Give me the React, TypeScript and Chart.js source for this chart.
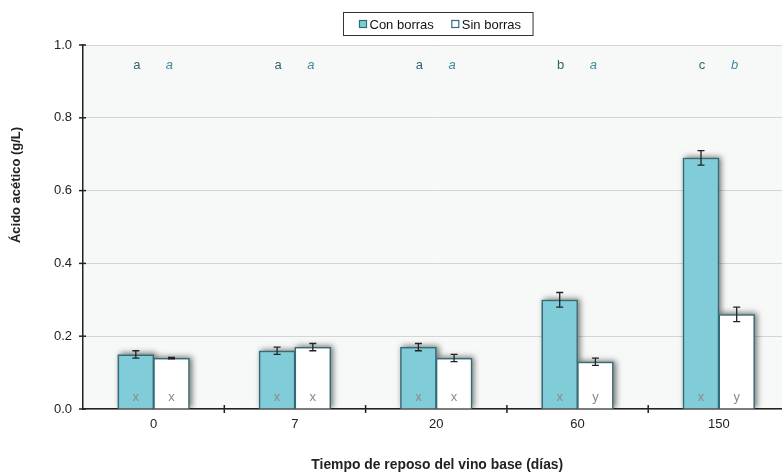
import React, { useEffect, useRef } from "react";
import { Chart, registerables } from "chart.js";

Chart.register(...registerables);

// Acetic acid (g/L) by resting time of the base wine
const categories = ["0", "7", "20", "60", "150"];
const conBorras = [0.15, 0.16, 0.17, 0.3, 0.69];
const conBorrasErr = [0.01, 0.01, 0.01, 0.02, 0.02];
const sinBorras = [0.14, 0.17, 0.14, 0.13, 0.26];
const sinBorrasErr = [0.002, 0.01, 0.01, 0.01, 0.02];
// significance letters (between times, per treatment)
const conLetters = ["a", "a", "a", "b", "c"];
const sinLetters = ["a", "a", "a", "a", "b"];
// significance letters (between treatments, per time)
const conGroups = ["x", "x", "x", "x", "x"];
const sinGroups = ["x", "x", "x", "y", "y"];
const seriesLabels = ["Con borras", "Sin borras"];
const yTitle = "Ácido acético (g/L)";
const xTitle = "Tiempo de reposo del vino base (días)";

const FONT = "'Liberation Sans', Arial, sans-serif";
const TEAL_FILL = "#80ccd8";
const TEAL_EDGE = "#2d6e7a";

// draw a bold title whose font size is chosen so the string spans `width`
function fittedTitle(ctx: any, text: string, x: number, y: number, width: number, angle: number) {
  ctx.save();
  ctx.font = "bold 10px " + FONT;
  const size = (10 * width) / ctx.measureText(text).width;
  ctx.font = "bold " + size.toFixed(2) + "px " + FONT;
  ctx.translate(x, y);
  ctx.rotate(angle);
  ctx.textAlign = "center";
  ctx.textBaseline = "middle";
  ctx.fillText(text, 0, 0);
  ctx.restore();
}

const decorations = {
  id: "decorations",
  beforeDraw(chart: any) {
    const { ctx, chartArea } = chart;
    ctx.save();
    ctx.fillStyle = "#f7f9f9";
    ctx.fillRect(chartArea.left, chartArea.top, chartArea.right - chartArea.left, chartArea.bottom - chartArea.top);
    ctx.restore();
  },
  beforeDatasetsDraw(chart: any) {
    // soft drop shadows behind each bar
    const { ctx, chartArea } = chart;
    ctx.save();
    ctx.beginPath();
    ctx.rect(chartArea.left, chartArea.top, chartArea.right - chartArea.left, chartArea.bottom - chartArea.top);
    ctx.clip();
    ctx.shadowColor = "rgba(0,0,0,0.55)";
    ctx.shadowBlur = 6;
    ctx.shadowOffsetX = 2;
    ctx.shadowOffsetY = -1;
    ctx.fillStyle = "#888";
    chart.data.datasets.forEach((_: any, i: number) => {
      chart.getDatasetMeta(i).data.forEach((bar: any) => {
        const { x, y, base, width } = bar.getProps(["x", "y", "base", "width"], true);
        ctx.fillRect(x - width / 2, y, width, base - y);
      });
    });
    ctx.restore();
  },
  afterDatasetsDraw(chart: any) {
    const { ctx, scales, chartArea } = chart;
    const y = scales.y;
    const x = scales.x;
    const errs = [conBorrasErr, sinBorrasErr];
    const tops = [conLetters, sinLetters];
    const bottoms = [conGroups, sinGroups];
    chart.data.datasets.forEach((ds: any, i: number) => {
      const meta = chart.getDatasetMeta(i);
      meta.data.forEach((bar: any, j: number) => {
        const v = ds.data[j];
        const e = errs[i][j];
        const yHi = y.getPixelForValue(v + e);
        const yLo = y.getPixelForValue(v - e);
        ctx.save();
        ctx.strokeStyle = "#222";
        ctx.lineWidth = 1.3;
        ctx.beginPath();
        ctx.moveTo(bar.x, yHi);
        ctx.lineTo(bar.x, yLo);
        ctx.moveTo(bar.x - 3.5, yHi);
        ctx.lineTo(bar.x + 3.5, yHi);
        ctx.moveTo(bar.x - 3.5, yLo);
        ctx.lineTo(bar.x + 3.5, yLo);
        ctx.stroke();
        // letters above
        ctx.textAlign = "center";
        ctx.textBaseline = "middle";
        ctx.font = (i === 1 ? "italic " : "") + "13px " + FONT;
        ctx.fillStyle = i === 0 ? "#2f6570" : "#3d8c9c";
        ctx.fillText(tops[i][j], bar.x + (i === 0 ? 1 : -2), y.getPixelForValue(0.945));
        // letters inside bar base
        ctx.font = "13px " + FONT;
        ctx.fillStyle = "#8a8a8a";
        ctx.fillText(bottoms[i][j], bar.x, y.getPixelForValue(0.032));
        ctx.restore();
      });
    });
    // category boundary ticks on the x axis
    ctx.save();
    ctx.strokeStyle = "#222";
    ctx.lineWidth = 1.5;
    const half = (x.getPixelForValue(1) - x.getPixelForValue(0)) / 2;
    for (let i = 0; i < categories.length - 1; i++) {
      const px = x.getPixelForValue(i) + half;
      ctx.beginPath();
      ctx.moveTo(px, chartArea.bottom - 4);
      ctx.lineTo(px, chartArea.bottom + 4);
      ctx.stroke();
    }
    // y ticks crossing the axis
    y.ticks.forEach((t: any) => {
      const py = y.getPixelForValue(t.value);
      ctx.beginPath();
      ctx.moveTo(chartArea.left - 4, py);
      ctx.lineTo(chartArea.left + 3, py);
      ctx.stroke();
    });
    ctx.restore();
  },
  afterDraw(chart: any) {
    const { ctx, chartArea } = chart;
    // axis titles
    ctx.save();
    ctx.fillStyle = "#222";
    fittedTitle(ctx, yTitle, 16, 185, 116, -Math.PI / 2);
    fittedTitle(ctx, xTitle, (chartArea.left + chartArea.right) / 2 + 1, 465, 252, 0);
    ctx.restore();

    // legend box
    ctx.save();
    ctx.font = "13px " + FONT;
    const ds = chart.data.datasets;
    const w1 = ctx.measureText(ds[0].label).width;
    const w2 = ctx.measureText(ds[1].label).width;
    const sq = 7;
    const gap = 18;
    const content = sq + 3 + w1 + gap + sq + 3 + w2;
    const boxW = content + 28;
    const cx = (chartArea.left + chartArea.right) / 2 + 2;
    const bx = Math.round(cx - boxW / 2) + 0.5;
    const by = 12.5;
    const bh = 23;
    ctx.fillStyle = "#fff";
    ctx.fillRect(bx, by, boxW, bh);
    ctx.strokeStyle = "#333";
    ctx.lineWidth = 1;
    ctx.strokeRect(bx, by, boxW, bh);
    let px = bx + 16;
    const cy = by + bh / 2;
    [0, 1].forEach((i) => {
      ctx.fillStyle = ds[i].backgroundColor;
      ctx.fillRect(px, cy - sq / 2, sq, sq);
      ctx.strokeStyle = TEAL_EDGE;
      ctx.lineWidth = 1.2;
      ctx.strokeRect(px, cy - sq / 2, sq, sq);
      px += sq + 3;
      ctx.fillStyle = "#111";
      ctx.textBaseline = "middle";
      ctx.textAlign = "left";
      ctx.fillText(ds[i].label, px, cy + 1);
      px += (i === 0 ? w1 : w2) + gap;
    });
    ctx.restore();
  },
};

export default function App() {
  const ref = useRef<HTMLCanvasElement | null>(null);

  useEffect(() => {
    if (!ref.current) return;
    Chart.defaults.font.family = FONT;
    const chart = new Chart(ref.current, {
      type: "bar",
      data: {
        labels: categories,
        datasets: [
          {
            label: seriesLabels[0],
            data: conBorras,
            backgroundColor: TEAL_FILL,
            borderColor: TEAL_EDGE,
            borderWidth: 1.5,
            categoryPercentage: 0.505,
            barPercentage: 1.02,
          },
          {
            label: seriesLabels[1],
            data: sinBorras,
            backgroundColor: "#ffffff",
            borderColor: TEAL_EDGE,
            borderWidth: 1.5,
            categoryPercentage: 0.505,
            barPercentage: 1.02,
          },
        ],
      },
      options: {
        animation: false,
        responsive: false,
        layout: { padding: { top: 45, right: 10.5, bottom: 0, left: 0 } },
        plugins: {
          legend: { display: false },
          tooltip: { enabled: false },
        },
        scales: {
          x: {
            grid: { display: false, drawTicks: false },
            border: { display: true, color: "#222", width: 1.5 },
            ticks: { color: "#222", font: { size: 13, family: FONT }, padding: 8 },
            afterFit: (s: any) => {
              s.height = 63;
            },
          },
          y: {
            min: 0,
            max: 1,
            ticks: {
              stepSize: 0.2,
              color: "#222",
              font: { size: 13, family: FONT },
              padding: 11,
              callback: (v: any) => Number(v).toFixed(1),
            },
            grid: { color: "#d4d4d4", drawTicks: false, lineWidth: 1 },
            border: { display: true, color: "#222", width: 1.5 },
            afterFit: (s: any) => {
              s.width = 83;
            },
          },
        },
      },
      plugins: [decorations],
    } as any);
    return () => chart.destroy();
  }, []);

  return (
    <div
      style={{
        position: "fixed",
        left: 0,
        top: 0,
        width: 782,
        height: 472,
        overflow: "hidden",
        background: "#fff",
      }}
    >
      <canvas ref={ref} width={800} height={472} style={{ display: "block" }} />
    </div>
  );
}
